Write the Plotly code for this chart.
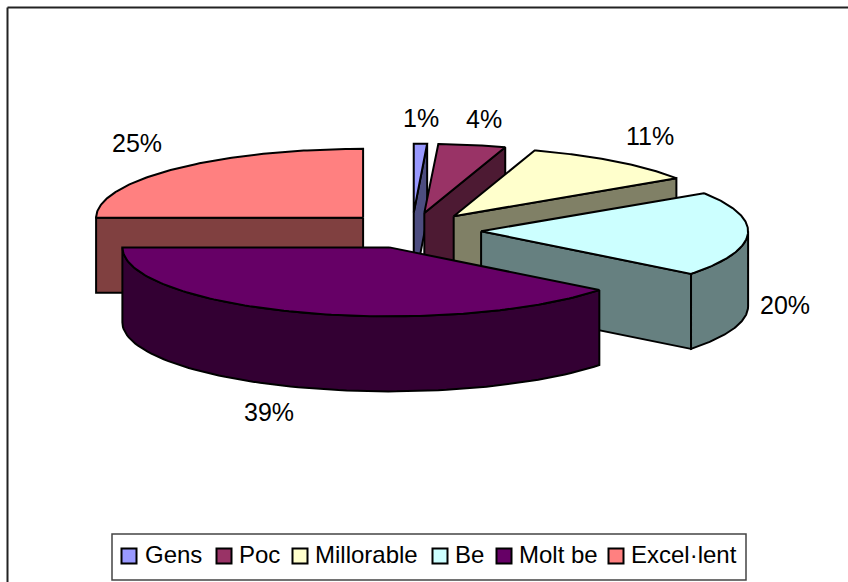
import numpy as np
import plotly.graph_objects as go

# ---- data ----
categories = ["Gens", "Poc", "Millorable", "Be", "Molt be", "Excel·lent"]
shares = [0.8, 4.1, 10.8, 19.9, 39.4, 25.0]
top_colors = ["#9999FF", "#993366", "#FFFFCC", "#CCFFFF", "#660066", "#FF8080"]
dark_colors = ["#4D4D80", "#4D1A33", "#808066", "#668080", "#330033", "#804040"]

# ---- projection of the tilted pie onto the page (pixels) ----
CX, CY = 412.0, 230.5
RX, RY = 267.0, 69.0
DEPTH = 75.0
EXPLODE = 0.259
W, H = 848, 582
OUT = "#000000"
LW = 2
FONT = "Liberation Sans"


def project(center, t):
    return center[0] + RX * np.sin(t), center[1] - RY * np.cos(t)


def polygon(xs, ys, color, name):
    return go.Scatter(x=list(xs) + [xs[0]], y=list(ys) + [ys[0]], mode="lines", fill="toself",
                      fillcolor=color, line=dict(color=OUT, width=LW), hoverinfo="skip",
                      showlegend=False, name=name)


edges = np.cumsum([0] + shares) / sum(shares) * 2 * np.pi
slices = []
for i, name in enumerate(categories):
    a, b = edges[i], edges[i + 1]
    m = (a + b) / 2
    c = (CX + EXPLODE * RX * np.sin(m), CY - EXPLODE * RY * np.cos(m))
    slices.append(dict(name=name, a=a, b=b, c=c, i=i))

fig = go.Figure()
# Painter's order: far slices first, the front slice last.
for s in [slices[5], slices[0], slices[1], slices[2], slices[3], slices[4]]:
    a, b, c, i, name = s["a"], s["b"], s["c"], s["i"], s["name"]
    dark, top = dark_colors[i], top_colors[i]
    # radial cut faces that look toward the viewer
    if b < np.pi:
        ex, ey = project(c, b)
        fig.add_trace(polygon([c[0], ex, ex, c[0]], [c[1], ey, ey + DEPTH, c[1] + DEPTH], dark, name))
    if a > np.pi:
        ex, ey = project(c, a)
        fig.add_trace(polygon([c[0], ex, ex, c[0]], [c[1], ey, ey + DEPTH, c[1] + DEPTH], dark, name))
    # curved rim on the near half of the ellipse
    r0, r1 = max(a, np.pi / 2), min(b, 3 * np.pi / 2)
    if r1 > r0:
        t = np.linspace(r0, r1, 80)
        rx, ry = project(c, t)
        fig.add_trace(polygon(np.r_[rx, rx[::-1]], np.r_[ry, ry[::-1] + DEPTH], dark, name))
    # top face
    t = np.linspace(a, b, 120)
    px, py = project(c, t)
    fig.add_trace(polygon(np.r_[c[0], px], np.r_[c[1], py], top, name))

# Percentage labels
label_pos = [(421, 118), (484, 119), (650, 136), (785, 305), (269, 412), (137, 143)]
for share, (lx, ly) in zip(shares, label_pos):
    fig.add_annotation(x=lx, y=ly, text=f"{round(share)}%", showarrow=False,
                       font=dict(family=FONT, size=25, color="#000000"))

# Legend box, drawn so that its tight Excel-style spacing is kept
fig.add_shape(type="rect", x0=112, x1=746, y0=534, y1=580, fillcolor="#FFFFFF",
              line=dict(color="#444444", width=1.5), layer="below")
swatch_x = [129, 224, 300, 440, 504, 616]
text_x = [145, 239, 315, 455, 519, 631]
for name, color, sx, tx in zip(categories, top_colors, swatch_x, text_x):
    fig.add_trace(go.Scatter(x=[sx], y=[556], mode="markers", name=name, showlegend=False,
                             hoverinfo="name",
                             marker=dict(symbol="square", size=15, color=color,
                                         line=dict(color="#000000", width=2))))
    fig.add_annotation(x=tx, y=554, text=name, showarrow=False, xanchor="left",
                       font=dict(family=FONT, size=24, color="#000000"), xshift=-2)

# Chart-area frame: only its top and left edges fall inside the picture
fig.add_shape(type="line", x0=7.5, x1=W, y0=7.5, y1=7.5, line=dict(color="#222222", width=2))
fig.add_shape(type="line", x0=7.5, x1=7.5, y0=7.5, y1=H, line=dict(color="#222222", width=2))

fig.update_layout(
    width=W, height=H, margin=dict(l=0, r=0, t=0, b=0),
    paper_bgcolor="#FFFFFF", plot_bgcolor="#FFFFFF",
    xaxis=dict(range=[0, W], visible=False, fixedrange=True),
    yaxis=dict(range=[H, 0], visible=False, fixedrange=True),
    showlegend=False,
)

fig.write_html("out.html", config={"displayModeBar": False},
               post_script="document.body.style.margin='0';document.body.style.overflow='hidden';")
